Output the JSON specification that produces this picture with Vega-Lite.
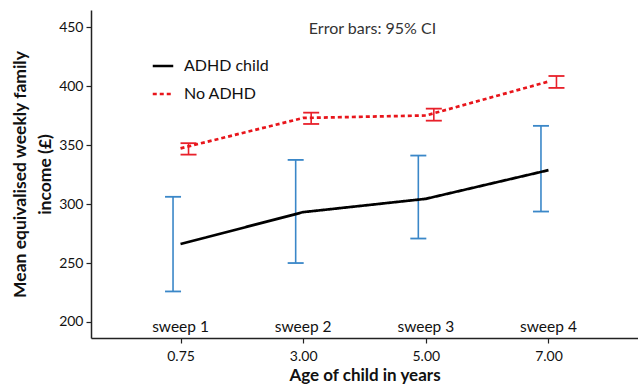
{
  "$schema": "https://vega.github.io/schema/vega-lite/v6.json",
  "autosize": {"type": "none"},
  "padding": {"left": 91, "top": 10, "right": 0, "bottom": 46},
  "width": 547,
  "height": 328,
  "background": "white",
  "config": {
    "view": {"stroke": null},
    "font": "Lato",
    "axis": {
      "domainColor": "#222",
      "domainWidth": 1.5,
      "tickColor": "#222",
      "tickWidth": 1.2,
      "tickSize": 5,
      "labelColor": "#111",
      "labelFontSize": 14,
      "labelFont": "Lato",
      "titleFont": "Lato",
      "titleFontSize": 17,
      "titleFontWeight": "bold",
      "titleColor": "#111",
      "grid": false
    }
  },
  "title": {
    "text": "Error bars: 95% CI",
    "orient": "top",
    "anchor": "middle",
    "offset": -27,
    "dx": 8,
    "fontSize": 16,
    "fontWeight": "normal",
    "color": "#333",
    "font": "Lato"
  },
  "datasets": {
    "income": [
      {"group": "ADHD child", "age": "0.75", "mean": 266.1, "lo": 225.9, "hi": 306.2},
      {"group": "ADHD child", "age": "3.00", "mean": 293.2, "lo": 250.0, "hi": 337.5},
      {"group": "ADHD child", "age": "5.00", "mean": 304.5, "lo": 270.8, "hi": 341.2},
      {"group": "ADHD child", "age": "7.00", "mean": 328.8, "lo": 293.7, "hi": 366.4},
      {"group": "No ADHD", "age": "0.75", "mean": 347.3, "lo": 342.0, "hi": 351.7},
      {"group": "No ADHD", "age": "3.00", "mean": 373.1, "lo": 368.0, "hi": 377.6},
      {"group": "No ADHD", "age": "5.00", "mean": 375.2, "lo": 370.8, "hi": 381.0},
      {"group": "No ADHD", "age": "7.00", "mean": 404.0, "lo": 398.6, "hi": 408.7}
    ],
    "sweeps": [
      {"age": "0.75", "label": "sweep 1"},
      {"age": "3.00", "label": "sweep 2"},
      {"age": "5.00", "label": "sweep 3"},
      {"age": "7.00", "label": "sweep 4"}
    ]
  },
  "encoding": {
    "x": {
      "field": "age",
      "type": "ordinal",
      "scale": {"type": "point", "padding": 0.73},
      "axis": {"title": "Age of child in years", "labelAngle": 0, "labelPadding": 6, "titlePadding": 4}
    }
  },
  "layer": [
    {
      "data": {"name": "income"},
      "transform": [{"filter": "datum.group === 'ADHD child'"}],
      "mark": {"type": "rule", "color": "#3a87c8", "strokeWidth": 1.6, "xOffset": -7.5},
      "encoding": {
        "y": {"field": "lo", "type": "quantitative"},
        "y2": {"field": "hi"}
      }
    },
    {
      "data": {"name": "income"},
      "transform": [
        {"filter": "datum.group === 'ADHD child'"},
        {"fold": ["lo", "hi"], "as": ["end", "val"]}
      ],
      "mark": {"type": "tick", "color": "#3a87c8", "thickness": 1.8, "size": 16, "orient": "horizontal", "xOffset": -7.5, "opacity": 1},
      "encoding": {
        "y": {"field": "val", "type": "quantitative"}
      }
    },
    {
      "data": {"name": "income"},
      "transform": [{"filter": "datum.group === 'No ADHD'"}],
      "mark": {"type": "rule", "color": "#e8202a", "strokeWidth": 1.6, "xOffset": 8},
      "encoding": {
        "y": {"field": "lo", "type": "quantitative"},
        "y2": {"field": "hi"}
      }
    },
    {
      "data": {"name": "income"},
      "transform": [
        {"filter": "datum.group === 'No ADHD'"},
        {"fold": ["lo", "hi"], "as": ["end", "val"]}
      ],
      "mark": {"type": "tick", "color": "#e8202a", "thickness": 1.8, "size": 16, "orient": "horizontal", "xOffset": 8, "opacity": 1},
      "encoding": {
        "y": {"field": "val", "type": "quantitative"}
      }
    },
    {
      "data": {"name": "income"},
      "mark": {"type": "line", "strokeWidth": 2.7},
      "encoding": {
        "y": {
          "field": "mean",
          "type": "quantitative",
          "scale": {"domain": [186.4, 464.7], "nice": false, "zero": false},
          "axis": {
            "title": ["Mean equivalised weekly family", "income (£)"],
            "values": [200, 250, 300, 350, 400, 450],
            "titleLineHeight": 25,
            "titlePadding": 4,
            "labelPadding": 3,
            "titleFontSize": 17.5
          }
        },
        "color": {
          "field": "group",
          "type": "nominal",
          "scale": {"domain": ["ADHD child", "No ADHD"], "range": ["#000000", "#e8151b"]},
          "legend": {
            "title": null,
            "orient": "none",
            "legendX": 60,
            "legendY": 44,
            "symbolType": "stroke",
            "symbolSize": 420,
            "symbolStrokeWidth": 2.6,
            "labelFontSize": 16,
            "labelColor": "#111",
            "labelFont": "Lato",
            "rowPadding": 8,
            "padding": 0,
            "labelOffset": 9
          }
        },
        "strokeDash": {
          "field": "group",
          "type": "nominal",
          "scale": {"domain": ["ADHD child", "No ADHD"], "range": [[1, 0], [4, 3]]},
          "legend": null
        }
      }
    },
    {
      "data": {"name": "sweeps"},
      "mark": {"type": "text", "fontSize": 15.5, "color": "#111", "baseline": "middle", "font": "Lato"},
      "encoding": {
        "y": {"datum": 195.5, "type": "quantitative"},
        "text": {"field": "label"}
      }
    }
  ]
}
